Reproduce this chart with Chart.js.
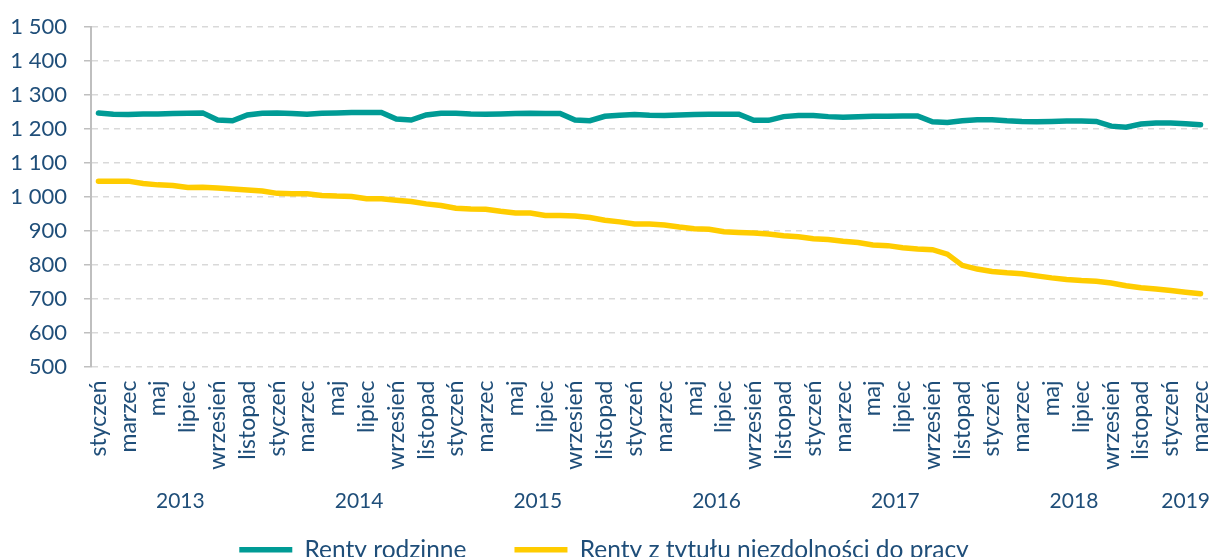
<!DOCTYPE html>
<html>
<head>
<meta charset="utf-8">
<script src="https://cdn.jsdelivr.net/npm/chart.js@4.4.1/dist/chart.umd.min.js"></script>
<style>
    html, body { margin: 0; padding: 0; background: #fff; overflow: hidden; }
    #outer { width: 1213px; height: 557px; overflow: hidden; }
    #wrap { width: 1213px; height: 572px; }
</style>
</head>
<body>
<div id="outer"><div id="wrap"><canvas id="chart"></canvas></div></div>
<script>
// Month names and years (categories)
const monthNames = ['styczeń', 'luty', 'marzec', 'kwiecień', 'maj', 'czerwiec',
    'lipiec', 'sierpień', 'wrzesień', 'październik', 'listopad', 'grudzień'];
const years = ['2013', '2014', '2015', '2016', '2017', '2018', '2019'];
const monthsPerYear = [12, 12, 12, 12, 12, 12, 3];

// Series values
const rentyRodzinne = [
    1247, 1243, 1242, 1244, 1244, 1245, 1246, 1247, 1226, 1224, 1241, 1246,
    1247, 1245, 1243, 1246, 1247, 1248, 1248, 1248, 1229, 1226, 1241, 1246,
    1246, 1244, 1243, 1244, 1245, 1246, 1245, 1245, 1226, 1224, 1237, 1240,
    1242, 1240, 1239, 1241, 1242, 1243, 1243, 1243, 1225, 1225, 1236, 1239,
    1239, 1236, 1234, 1236, 1237, 1237, 1238, 1238, 1221, 1219, 1224, 1227,
    1227, 1224, 1222, 1221, 1222, 1223, 1223, 1222, 1208, 1205, 1214, 1217,
    1217, 1215, 1212
];
const rentyNiezdolnosc = [
    1046, 1046, 1046, 1039, 1035, 1033, 1027, 1028, 1026, 1023, 1020, 1017,
    1010, 1009, 1009, 1004, 1002, 1001, 994, 994, 990, 986, 979, 974,
    966, 964, 963, 957, 952, 952, 945, 945, 943, 939, 931, 926,
    920, 920, 917, 911, 906, 904, 897, 895, 893, 890, 885, 882,
    876, 874, 869, 865, 858, 856, 850, 846, 844, 831, 798, 787,
    780, 776, 773, 767, 761, 756, 753, 751, 746, 738, 732, 728,
    724, 719, 714
];

// Y axis ticks
const yMin = 500;
const yMax = 1500;
const yStep = 100;

const textColor = '#1F4E79';
const fontFamily = 'Lato, "Noto Sans", sans-serif';

// Build labels: one per month
const labels = [];
years.forEach((y, yi) => {
    for (let m = 0; m < monthsPerYear[yi]; m++) {
        labels.push(monthNames[m]);
    }
});

// Draw year labels under month labels
const yearLabelsPlugin = {
    id: 'yearLabels',
    afterDraw(chart) {
        const ctx = chart.ctx;
        const xScale = chart.scales.x;
        let start = 0;
        ctx.save();
        ctx.fillStyle = textColor;
        ctx.font = '21px ' + fontFamily;
        ctx.textAlign = 'center';
        ctx.textBaseline = 'middle';
        years.forEach((y, yi) => {
            const end = start + monthsPerYear[yi] - 1;
            const x = (xScale.getPixelForValue(start) + xScale.getPixelForValue(end)) / 2;
            ctx.fillText(y, x, chart.chartArea.bottom + 135);
            start = end + 1;
        });
        ctx.restore();
    }
};

new Chart(document.getElementById('chart'), {
    type: 'line',
    data: {
        labels: labels,
        datasets: [{
            label: 'Renty rodzinne',
            data: rentyRodzinne,
            borderColor: '#009B95',
            backgroundColor: '#009B95',
            borderWidth: 5.5,
            borderCapStyle: 'round',
            pointRadius: 0,
            pointStyle: 'line',
            tension: 0
        }, {
            label: 'Renty z tytułu niezdolności do pracy',
            data: rentyNiezdolnosc,
            borderColor: '#FFCC00',
            backgroundColor: '#FFCC00',
            borderWidth: 5.5,
            borderCapStyle: 'round',
            pointRadius: 0,
            pointStyle: 'line',
            tension: 0
        }]
    },
    options: {
        responsive: true,
        maintainAspectRatio: false,
        animation: false,
        layout: {
            padding: { top: 27, right: 5, left: 0, bottom: 0 }
        },
        plugins: {
            legend: {
                position: 'bottom',
                labels: {
                    color: textColor,
                    font: { family: fontFamily, size: 24.5 },
                    usePointStyle: true,
                    pointStyleWidth: 53,
                    boxHeight: 6,
                    padding: 48
                }
            },
            tooltip: { enabled: false }
        },
        scales: {
            x: {
                offset: true,
                grid: { display: false },
                border: { display: false },
                ticks: {
                    color: textColor,
                    font: { family: fontFamily, size: 23 },
                    autoSkip: false,
                    maxRotation: 90,
                    minRotation: 90,
                    padding: 6,
                    callback: function(value, index) {
                        return index % 2 === 0 ? this.getLabelForValue(value) : '';
                    }
                },
                afterFit(scale) {
                    scale.height = 123;
                    scale.paddingLeft = 0;
                    scale.paddingRight = 0;
                }
            },
            y: {
                min: yMin,
                max: yMax,
                grid: {
                    color: '#D9D9D9',
                    lineWidth: 1.5,
                    tickLength: 7,
                    tickColor: '#BFBFBF',
                    tickBorderDash: []
                },
                border: {
                    display: true,
                    color: '#BFBFBF',
                    width: 2,
                    dash: [6, 5]
                },
                ticks: {
                    stepSize: yStep,
                    color: textColor,
                    font: { family: fontFamily, size: 22 },
                    padding: 17,
                    callback: function(value) {
                        return String(value).replace(/\B(?=(\d{3})+(?!\d))/g, ' ');
                    }
                },
                afterFit(scale) {
                    scale.width = 91;
                    scale.paddingTop = 0;
                    scale.paddingBottom = 0;
                }
            }
        }
    },
    plugins: [yearLabelsPlugin]
});
</script>
</body>
</html>
